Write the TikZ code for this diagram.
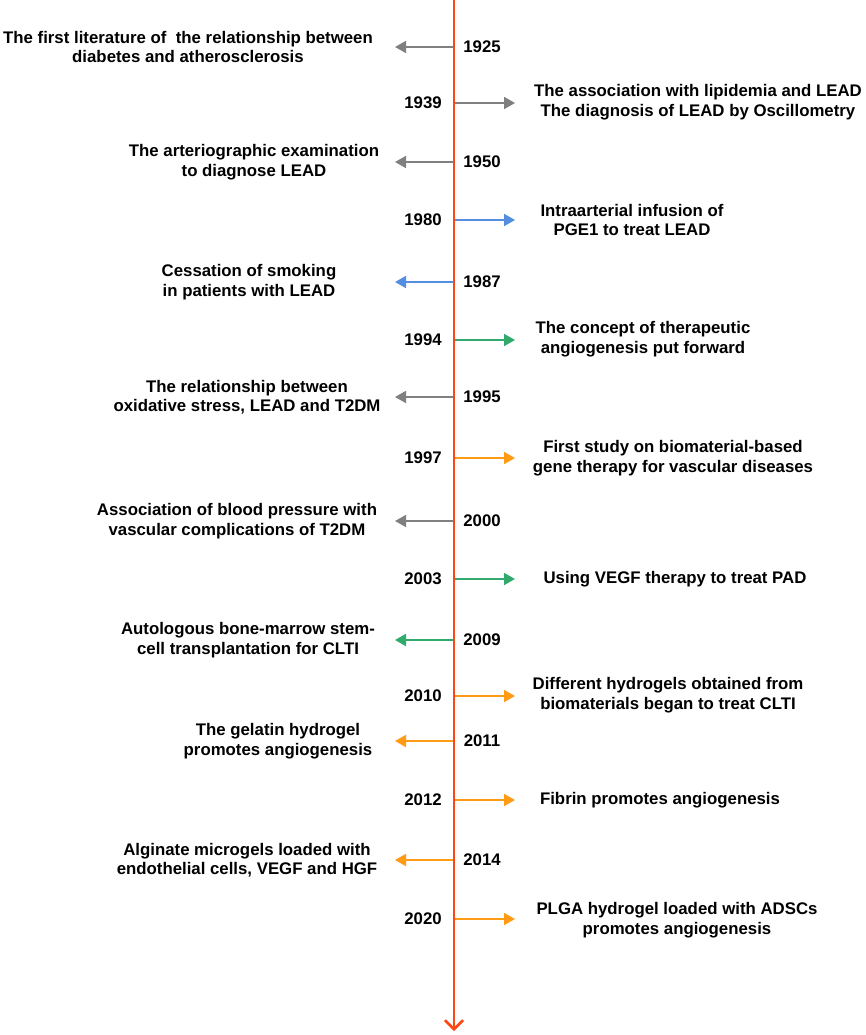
\documentclass[tikz,border=0pt]{standalone}
\usepackage{fontspec}
\setmainfont{Liberation Sans}
\usetikzlibrary{arrows.meta}
\definecolor{spine}{RGB}{255,70,20}
\definecolor{cgray}{RGB}{128,128,128}
\definecolor{cblue}{RGB}{85,142,225}
\definecolor{cgreen}{RGB}{50,170,110}
\definecolor{corange}{RGB}{255,155,20}
\tikzset{
  lbl/.style={font=\bfseries\fontsize{16.8}{19.5}\selectfont, align=center, inner sep=0pt},
  yr/.style={font=\bfseries\fontsize{16.8}{19}\selectfont, inner sep=0pt},
  br/.style={line width=1.8pt, -{Triangle[length=11pt,width=12pt]}},
}
\begin{document}
\begin{tikzpicture}[x=1pt,y=-1pt]
\useasboundingbox (0,0) rectangle (865,1035);
\coordinate (top) at (454,0);
\coordinate (bot) at (454,1031);
\draw[spine, line width=2.6pt, -{Straight Barb[length=9pt,width=18pt,line width=2.6pt]}] (top) -- (bot);

\newcommand{\lbranch}[6]{% id, y, year, color, textx, text
  \coordinate (s#1) at (453,#2);
  \coordinate (e#1) at (395,#2);
  \draw[br,#4] (s#1) -- (e#1);
  \node[yr] (y#1) at (482,#2) {#3};
  \node[lbl] (t#1) at (#5,#2) {#6};
}
\newcommand{\rbranch}[7]{% id, y, year, color, textx, texty, text
  \coordinate (s#1) at (455,#2);
  \coordinate (e#1) at (515,#2);
  \draw[br,#4] (s#1) -- (e#1);
  \node[yr] (y#1) at (423,#2) {#3};
  \node[lbl] (t#1) at (#5,#6) {#7};
}

\lbranch{a}{47}{1925}{cgray}{188}{The first literature of\ \ the relationship between\\diabetes and atherosclerosis}
\rbranch{b}{103}{1939}{cgray}{698}{102}{The association with lipidemia and LEAD\\The diagnosis of LEAD by Oscillometry}
\lbranch{c}{162}{1950}{cgray}{254}{The arteriographic examination\\to diagnose LEAD}
\rbranch{d}{220}{1980}{cblue}{632}{220}{Intraarterial infusion of\\PGE1 to treat LEAD}
\lbranch{e}{282}{1987}{cblue}{249}{Cessation of smoking\\in patients with LEAD}
\rbranch{f}{340}{1994}{cgreen}{643}{339}{The concept of therapeutic\\angiogenesis put forward}
\lbranch{g}{397}{1995}{cgray}{247}{The relationship between\\oxidative stress, LEAD and T2DM}
\rbranch{h}{458}{1997}{corange}{673}{458}{First study on biomaterial-based\\gene therapy for vascular diseases}
\lbranch{i}{521}{2000}{cgray}{237}{Association of blood pressure with\\vascular complications of T2DM}
\rbranch{j}{579}{2003}{cgreen}{675}{579}{Using VEGF therapy to treat PAD}
\lbranch{k}{640}{2009}{cgreen}{248}{Autologous bone-marrow stem-\\cell transplantation for CLTI}
\rbranch{l}{696}{2010}{corange}{668}{695}{Different hydrogels obtained from\\biomaterials began to treat CLTI}
\lbranch{m}{741}{2011}{corange}{278}{The gelatin hydrogel\\promotes angiogenesis}
\rbranch{n}{800}{2012}{corange}{660}{800}{Fibrin promotes angiogenesis}
\lbranch{o}{860}{2014}{corange}{247}{Alginate microgels loaded with\\endothelial cells, VEGF and HGF}
\rbranch{p}{919}{2020}{corange}{677}{920}{PLGA hydrogel loaded with ADSCs\\promotes angiogenesis}
\end{tikzpicture}
\end{document}
